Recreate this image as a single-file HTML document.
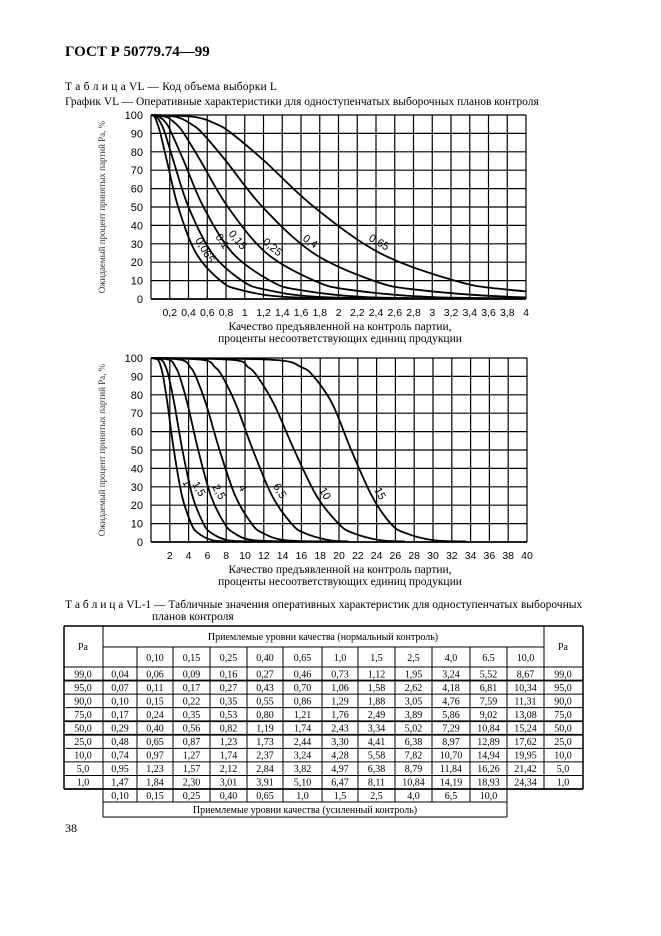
<!DOCTYPE html>
<html><head><meta charset="utf-8"><style>
body{margin:0;background:#fff;}
svg{display:block;font-family:"Liberation Serif","DejaVu Serif",serif;}
.s{font-family:"Liberation Sans","DejaVu Sans",sans-serif;}
</style></head><body>
<svg id="g" width="661" height="936" viewBox="0 0 661 936" xmlns="http://www.w3.org/2000/svg">
<defs>
<clipPath id="k1"><rect x="151" y="110" width="375" height="190"/></clipPath>
<clipPath id="k2"><rect x="151" y="353" width="376" height="190"/></clipPath>
</defs>
<rect width="661" height="936" fill="#fff"/>
<text x="65" y="56" font-size="15" font-weight="bold">ГОСТ Р 50779.74—99</text>
<text x="65" y="90" font-size="11.5" letter-spacing="0.2">Т а б л и ц а   VL — Код объема выборки L</text>
<text x="65" y="105" font-size="11.5">График VL — Оперативные характеристики для одноступенчатых выборочных планов контроля</text>
<text x="340" y="330" font-size="11.5" text-anchor="middle">Качество предъявленной на контроль партии,</text>
<text x="340" y="342" font-size="11.5" text-anchor="middle">проценты несоответствующих единиц продукции</text>
<text x="340" y="573" font-size="11.5" text-anchor="middle">Качество предъявленной на контроль партии,</text>
<text x="340" y="585" font-size="11.5" text-anchor="middle">проценты несоответствующих единиц продукции</text>
<text transform="translate(105,207) rotate(-90)" font-size="9" text-anchor="middle" fill="#333">Ожидаемый процент принятых партий Pa, %</text>
<text transform="translate(105,450) rotate(-90)" font-size="9" text-anchor="middle" fill="#333">Ожидаемый процент принятых партий Pa, %</text>
<text x="65" y="608" font-size="11.5">Т а б л и ц а  VL-1 — Табличные значения оперативных характеристик для одноступенчатых выборочных</text>
<text x="152" y="620" font-size="11.5">планов контроля</text>
<text x="65" y="832" font-size="12">38</text>
<g id="c"></g>
</svg>
<script>
var NS="http://www.w3.org/2000/svg",G=document.getElementById('c');
function el(t,a,txt){var e=document.createElementNS(NS,t);for(var k in a)e.setAttribute(k,a[k]);if(txt!=null)e.textContent=txt;G.appendChild(e);return e;}
function grid(top,bot,xl,xr,labels){
 var h=(bot-top)/10,w=(xr-xl)/20;
 for(var i=0;i<=10;i++){var y=top+i*h;el('line',{x1:xl,x2:xr,y1:y,y2:y,stroke:'#000','stroke-width':i==10?1.8:1.2});
  el('text',{x:143,y:y+4,'font-size':11,'text-anchor':'end','class':'s'},String(100-i*10));}
 for(var j=0;j<=20;j++){var x=xl+j*w;el('line',{x1:x,x2:x,y1:top,y2:bot,stroke:'#000','stroke-width':1.2});
  if(j>0)el('text',{x:x,y:bot+17,'font-size':10.5,'text-anchor':'middle','class':'s'},labels[j-1]);}
}
var l1=[],l2=[];for(var j=1;j<=20;j++){l1.push(String(Math.round(j*2)/10).replace('.',','));l2.push(String(j*2));}
grid(115,299,151,526,l1);grid(358,542,151,527,l2);
var P=[100,99,95,90,75,50,25,10,5,1];
function curve(vals,tail,sx,top,bot,clip){
 var pts=[[0,100]];for(var i=0;i<vals.length;i++)pts.push([vals[i],P[i+1]]);pts.push([tail,0.3]);
 var q=pts.map(function(p){return [151+p[0]*sx, bot-p[1]*(bot-top)/100];});
 var d='M'+q[0][0]+','+q[0][1];
 for(var i=0;i<q.length-1;i++){var p0=q[Math.max(0,i-1)],p1=q[i],p2=q[i+1],p3=q[Math.min(q.length-1,i+2)];
  d+=' C'+(p1[0]+(p2[0]-p0[0])/6)+','+(p1[1]+(p2[1]-p0[1])/6)+' '+(p2[0]-(p3[0]-p1[0])/6)+','+(p2[1]-(p3[1]-p1[1])/6)+' '+p2[0]+','+p2[1];}
 el('path',{d:d,fill:'none',stroke:'#000','stroke-width':1.8,'clip-path':'url(#'+clip+')'});
}
var T=[[0.04,0.07,0.10,0.17,0.29,0.48,0.74,0.95,1.47],[0.06,0.11,0.15,0.24,0.40,0.65,0.97,1.23,1.84],[0.09,0.17,0.22,0.35,0.56,0.87,1.27,1.57,2.30],[0.16,0.27,0.35,0.53,0.82,1.23,1.74,2.12,3.01],[0.27,0.43,0.55,0.80,1.19,1.73,2.37,2.84,3.91],[0.46,0.70,0.86,1.21,1.74,2.44,3.24,3.82,5.10],[0.73,1.06,1.29,1.76,2.43,3.30,4.28,4.97,6.47],[1.12,1.58,1.88,2.49,3.34,4.41,5.58,6.38,8.11],[1.95,2.62,3.05,3.89,5.02,6.38,7.82,8.79,10.84],[3.24,4.18,4.76,5.86,7.29,8.97,10.70,11.84,14.19],[5.52,6.81,7.59,9.02,10.84,12.89,14.94,16.26,18.93],[8.67,10.34,11.31,13.08,15.24,17.62,19.95,21.42,24.34],[13,16,17.3,19.3,21.3,23.5,25.5,27,30]];
var t1=[2.6,3.2,3.6,4.6,5.5,7.5];
for(var i=0;i<6;i++)curve(T[i],t1[i],375/4,115,299,'k1');
for(var i=6;i<13;i++)curve(T[i],[8,11,16,19,21,27,33.5][i-6],376/40,358,542,'k2');
var lab1=[[195,240,'0,065',60],[215,237,'0,1',55],[228,234,'0,15',50],[262,243,'0,25',40],[302,240,'0,4',35],[368,240,'0,65',30]];
lab1.forEach(function(a){el('text',{x:a[0],y:a[1],'font-size':11,'class':'s',transform:'rotate('+a[3]+' '+a[0]+' '+a[1]+')'},a[2]);});
var lab2=[[182,482,'1'],[192,484,'1,5'],[212,487,'2,5'],[238,487,'4'],[273,486,'6,5'],[319,490,'10'],[374,490,'15']];
lab2.forEach(function(a){el('text',{x:a[0],y:a[1],'font-size':11,'class':'s',transform:'rotate(60 '+a[0]+' '+a[1]+')'},a[2]);});
// table
var cx=[64,103,137,173,210,247,283,322,358,395,432,470,507,544,583];
var ry=[];for(var k=0;k<10;k++)ry.push(667+k*122/9);
function ln(x1,y1,x2,y2,w){el('line',{x1:x1,y1:y1,x2:x2,y2:y2,stroke:'#000','stroke-width':w||1});}
ln(64,626,583,626,1.5);ln(103,647,544,647);
for(var k=0;k<ry.length;k++)ln(64,ry[k],583,ry[k],(k==1||k==4||k==5||k==9)?1.8:1);
ln(64,626,64,789,1.5);ln(583,626,583,789,1.5);ln(103,626,103,817);ln(544,626,544,789);
for(var k=2;k<14;k++)ln(cx[k],647,cx[k],789);
for(var k=2;k<13;k++)ln(cx[k],789,cx[k],802);
ln(103,802,507,802);ln(507,789,507,817);ln(103,817,507,817);
el('text',{x:323,y:640,'font-size':10,'text-anchor':'middle'},'Приемлемые уровни качества (нормальный контроль)');
el('text',{x:83,y:650,'font-size':10,'text-anchor':'middle'},'Pa');el('text',{x:563,y:650,'font-size':10,'text-anchor':'middle'},'Pa');
var hd=['','0,10','0,15','0,25','0,40','0,65','1,0','1,5','2,5','4,0','6.5','10,0'];
for(var k=0;k<12;k++)el('text',{x:(cx[k+1]+cx[k+2])/2,y:661,'font-size':10,'text-anchor':'middle'},hd[k]);
var pa=['99,0','95,0','90,0','75,0','50,0','25,0','10,0','5,0','1,0'];
for(var r=0;r<9;r++){var y=(ry[r]+ry[r+1])/2+3.5;
 el('text',{x:83,y:y,'font-size':10,'text-anchor':'middle'},pa[r]);el('text',{x:563,y:y,'font-size':10,'text-anchor':'middle'},pa[r]);
 for(var c=0;c<12;c++)el('text',{x:(cx[c+1]+cx[c+2])/2,y:y,'font-size':10,'text-anchor':'middle'},T[c][r].toFixed(2).replace('.',','));}
var bt=['0,10','0,15','0,25','0,40','0,65','1,0','1,5','2,5','4,0','6,5','10,0'];
for(var k=0;k<11;k++)el('text',{x:(cx[k+1]+cx[k+2])/2,y:799,'font-size':10,'text-anchor':'middle'},bt[k]);
el('text',{x:305,y:813,'font-size':10,'text-anchor':'middle'},'Приемлемые уровни качества (усиленный контроль)');
</script>
</body></html>
